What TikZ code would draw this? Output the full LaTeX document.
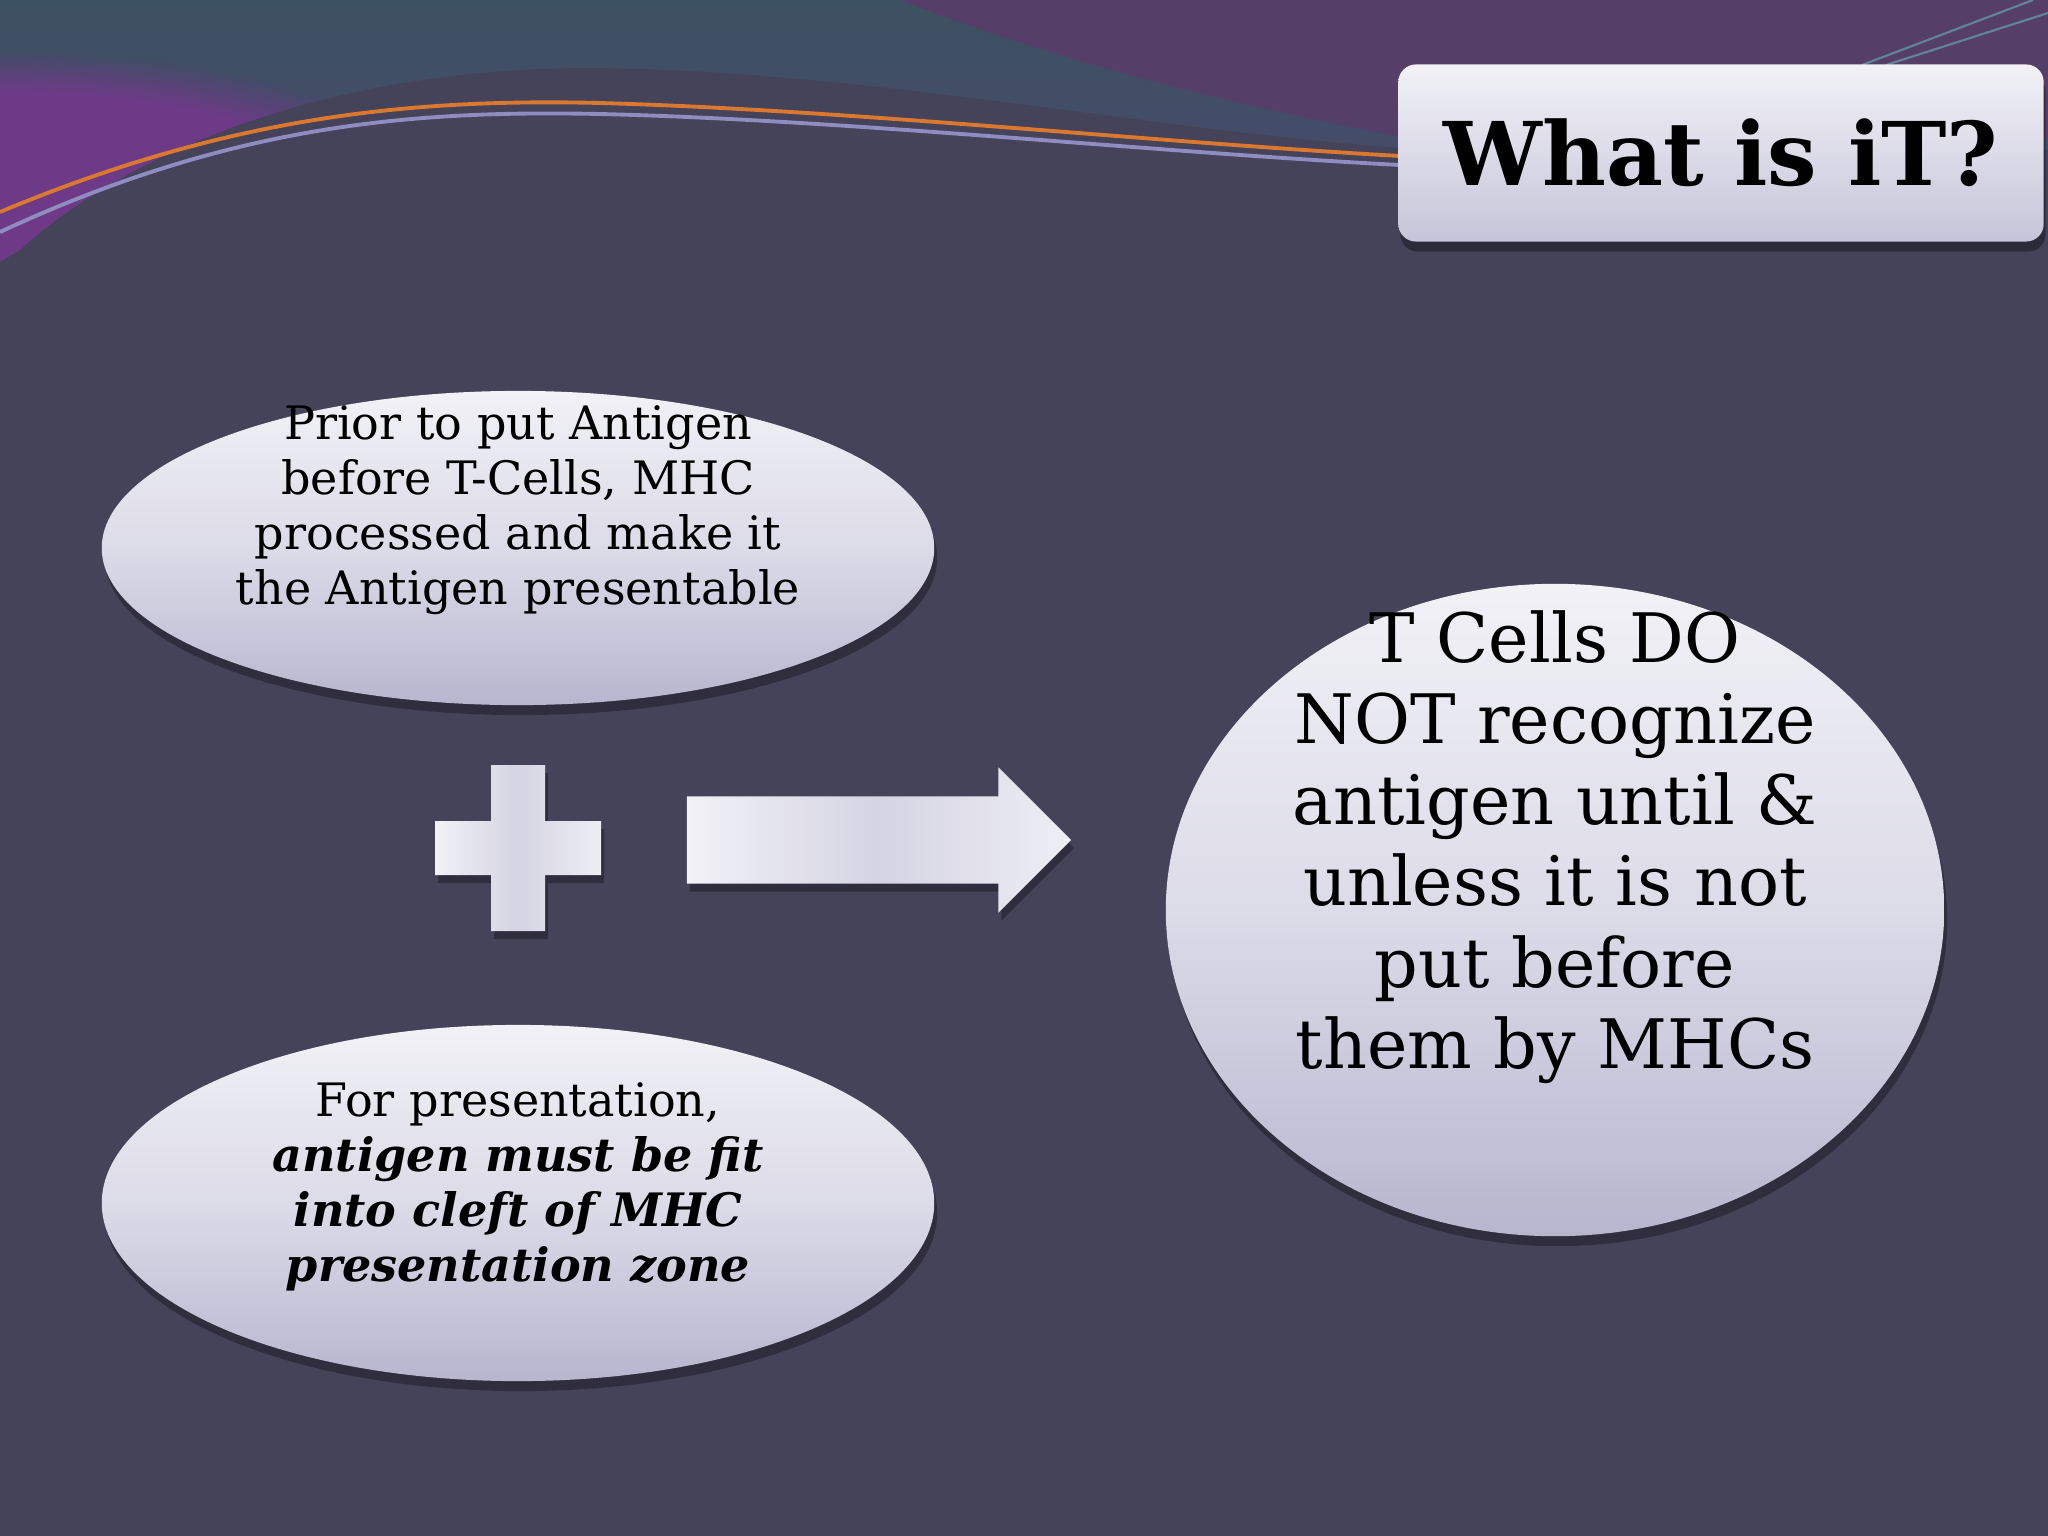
\documentclass[tikz,border=0pt]{standalone}
\usepackage{fontspec}
\setmainfont{DejaVu Serif}
\usepackage{tikz}
\usetikzlibrary{shapes.geometric,shapes.arrows,shadows,fadings,positioning}
\definecolor{slBg}{HTML}{45435A}
\definecolor{slTeal}{HTML}{3C5262}
\definecolor{slViolet}{HTML}{4B466E}
\definecolor{slPurple}{HTML}{553F69}
\definecolor{slMagenta}{HTML}{6E3A88}
\definecolor{slOrange}{HTML}{D9782E}
\definecolor{slLine}{HTML}{8E8CC0}
\definecolor{slThin}{HTML}{5F8596}
\definecolor{slHi}{HTML}{F1F1F6}
\definecolor{slMid}{HTML}{DCDBE8}
\definecolor{slLo}{HTML}{B8B6CF}
\tikzset{
  % Pale bubbles, lit from above.
  slide/bubble/.style={
    ellipse, inner sep=0pt, top color=slHi, bottom color=slLo, middle color=slMid,
    drop shadow={shadow xshift=0.3mm, shadow yshift=-1mm, opacity=0.3, fill=black}
  },
  % Flat symbols between the bubbles.
  slide/symbol/.style={
    left color=slHi, right color=slHi!85!slMid, middle color=slMid!80!slLo,
    drop shadow={shadow xshift=0.3mm, shadow yshift=-0.8mm, opacity=0.3, fill=black}
  },
  % Heading plate, top right.
  slide/plate/.style={
    rectangle, rounded corners=5pt, inner sep=0pt,
    top color=slHi, bottom color=slLo!80!white, middle color=slMid,
    drop shadow={shadow xshift=0.2mm, shadow yshift=-1mm, opacity=0.35, fill=black},
    font=\fontsize{25}{30}\selectfont\bfseries, text=black
  },
  slide/text/.style={text=black, align=center, inner sep=0pt},
}
\newcommand{\bitx}[1]{\textbf{\textit{#1}}}

\begin{document}
\begin{tikzpicture}[x=0.01cm, y=-0.01cm,
  small/.style={slide/text, font=\fontsize{13.1}{15.6}\selectfont},
  big/.style={slide/text, font=\fontsize{19.4}{23.1}\selectfont}]
  \useasboundingbox (0,0) rectangle (2048,1536);
  % backdrop
  \fill[slBg] (0,0) rectangle (2048,1536);
  \begin{scope}
    \clip (0,0) rectangle (2048,270);
    \shade[top color=slTeal, bottom color=slViolet] (0,0) rectangle (2048,270);
    \fill[slMagenta, path fading=circle with fuzzy edge 20 percent] (0,265) ellipse [x radius=520, y radius=215];
  \end{scope}
  \fill[slPurple] (900,0) .. controls (1050,60) and (1250,110) .. (1420,140) -- (2048,140) -- (2048,0) -- cycle;
  \fill[slBg] (0,262) -- (20,250) .. controls (130,150) and (330,70) .. (580,68)
    .. controls (850,68) and (1150,130) .. (1400,148) -- (2048,150) -- (2048,272) -- (0,272) -- cycle;
  \draw[slOrange, line width=1.1pt] (0,212) .. controls (220,120) and (400,98) .. (600,103)
    .. controls (850,110) and (1150,142) .. (1400,156);
  \draw[slLine, line width=1.1pt] (0,232) .. controls (230,125) and (410,110) .. (600,114)
    .. controls (850,120) and (1150,152) .. (1400,165);
  \draw[slThin, line width=0.6pt] (1862,65) -- (2033,0);
  \draw[slThin, line width=0.6pt] (1886,65) -- (2048,13);

  % heading
  \node[slide/plate, minimum width=6.45cm, minimum height=1.77cm] (title) at (1721,153) {What is iT?};

  % the three bubbles
  \node[slide/bubble, minimum width=8.32cm, minimum height=3.14cm] (prior) at (518,548) {};
  \node[slide/bubble, minimum width=8.32cm, minimum height=3.56cm] (fit) at (518,1203) {};
  \node[slide/bubble, minimum width=7.78cm, minimum height=6.52cm] (tcell) at (1555,910) {};

  \node[small] (priortxt) at (518,510)
    {Prior to put Antigen\\before T-Cells, MHC\\processed and make it\\the Antigen presentable};
  \node[small] (fittxt) at (518,1187)
    {For presentation,\\\bitx{antigen must be fit}\\\bitx{into cleft of MHC}\\\bitx{presentation zone}};
  \node[big] (tcelltxt) at (1555,847)
    {T Cells DO\\NOT recognize\\antigen until \&\\unless it is not\\put before\\them by MHCs};

  % plus and arrow
  \coordinate (plus) at (518,848);
  \path[slide/symbol] (491,765) -- (545,765) -- (545,821) -- (601,821) -- (601,875) -- (545,875)
    -- (545,931) -- (491,931) -- (491,875) -- (435,875) -- (435,821) -- (491,821) -- cycle;
  \node[slide/symbol, single arrow, inner xsep=0pt, inner ysep=0.43cm, minimum height=3.84cm,
        single arrow head extend=0.29cm, anchor=tip] (flow) at (1072,840) {};
\end{tikzpicture}
\end{document}
